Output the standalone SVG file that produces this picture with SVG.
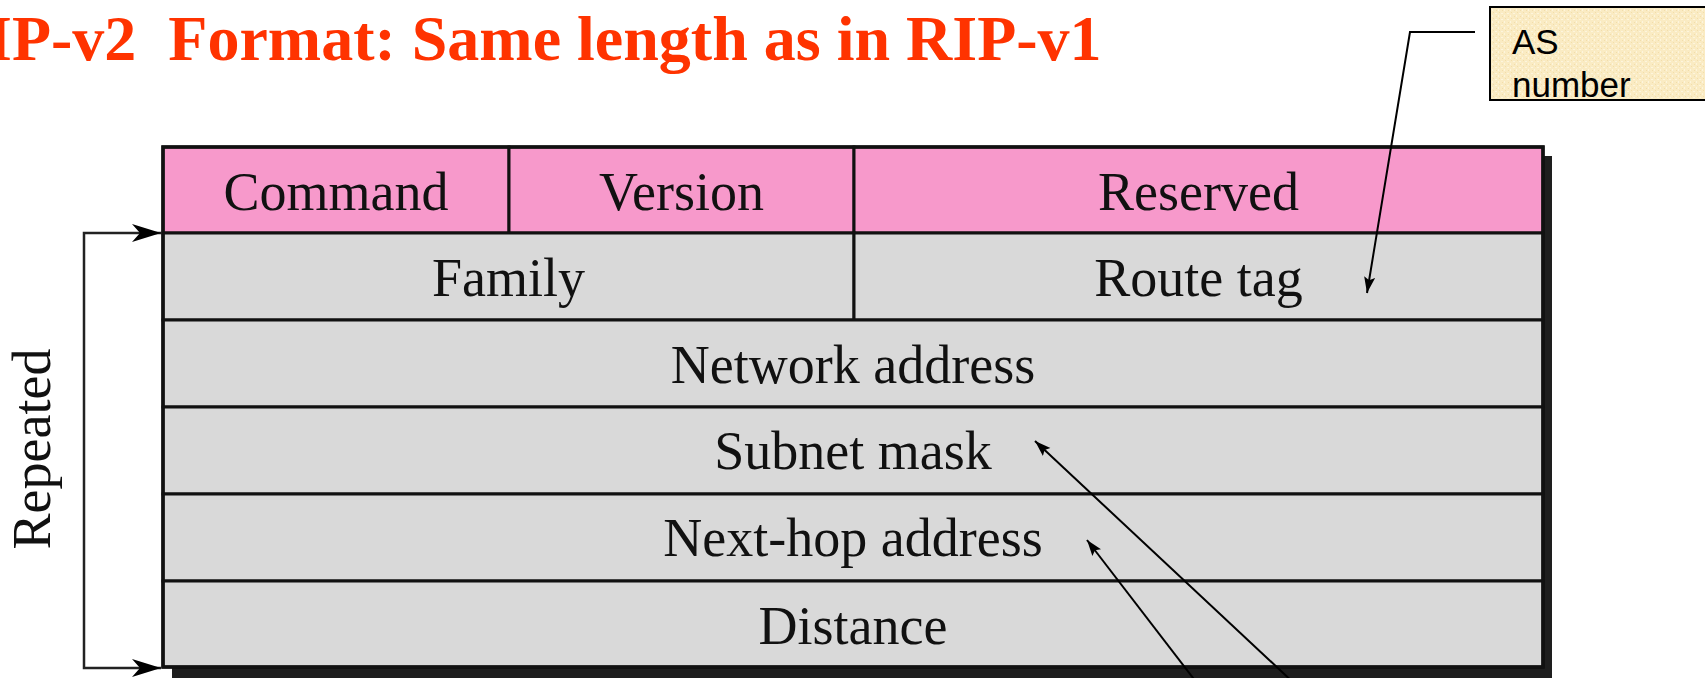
<svg xmlns="http://www.w3.org/2000/svg" width="1705" height="678" viewBox="0 0 1705 678">
  <defs>
    <style>
      .cell-pink{fill:#F799CB;stroke:#111;stroke-width:3}
      .cell-gray{fill:#D9D9D9;stroke:#111;stroke-width:3}
      .frame{fill:none;stroke:#111;stroke-width:3.5}
      .shadow{fill:#1E1E1E}
      .lbl{font-family:"Liberation Serif","Times New Roman",serif;font-size:54px;fill:#111;text-anchor:middle}
      .title{font-family:"Liberation Serif","Times New Roman",serif;font-weight:bold;font-size:64px;fill:#FF3300}
      .note{font-family:"Liberation Sans",Arial,sans-serif;font-size:35px;fill:#000}
      .wire{fill:none;stroke:#000;stroke-width:2}
      .bracket{fill:none;stroke:#222;stroke-width:2.5}
    </style>
    <marker id="tip" markerUnits="userSpaceOnUse" markerWidth="18" markerHeight="12" refX="16" refY="6" orient="auto" viewBox="0 0 18 12">
      <path d="M0,0.5 L16,6 L0,11.5 L3,6 Z" fill="#000"/>
    </marker>
    <marker id="stealth" markerUnits="userSpaceOnUse" markerWidth="30" markerHeight="20" refX="29" refY="10" orient="auto" viewBox="0 0 30 20">
      <path d="M0,1 L29,10 L0,19 L8,10 Z" fill="#000"/>
    </marker>
    <pattern id="paper" width="6" height="6" patternUnits="userSpaceOnUse">
      <rect width="6" height="6" fill="#FAEBC3"/>
      <rect x="1" y="1" width="2" height="1" fill="#FDF5DD"/>
      <rect x="4" y="3" width="1" height="2" fill="#FDF5DD"/>
      <rect x="2" y="4" width="1" height="1" fill="#F2DDAA"/>
      <rect x="5" y="0" width="1" height="1" fill="#F2DDAA"/>
    </pattern>
    <clipPath id="noteClip">
      <rect x="1491" y="8" width="214" height="91"/>
    </clipPath>
  </defs>

  <!-- heading -->
  <g id="title">
    <text class="title" x="-13" y="60" xml:space="preserve">IP-v2  Format: Same length as in RIP-v1</text>
  </g>

  <!-- drop shadow behind the packet layout -->
  <rect class="shadow" x="172" y="156" width="1380" height="522"/>

  <!-- header row -->
  <g id="command">
    <rect class="cell-pink" x="163" y="147" width="346" height="86"/>
    <text class="lbl" x="336" y="210">Command</text>
  </g>
  <g id="version">
    <rect class="cell-pink" x="509" y="147" width="345" height="86"/>
    <text class="lbl" x="681.5" y="210">Version</text>
  </g>
  <g id="reserved">
    <rect class="cell-pink" x="854" y="147" width="689" height="86"/>
    <text class="lbl" x="1198.5" y="210">Reserved</text>
  </g>

  <!-- repeated route entry -->
  <g id="family">
    <rect class="cell-gray" x="163" y="233" width="691" height="87"/>
    <text class="lbl" x="508.5" y="296">Family</text>
  </g>
  <g id="route-tag">
    <rect class="cell-gray" x="854" y="233" width="689" height="87"/>
    <text class="lbl" x="1198.5" y="296">Route tag</text>
  </g>
  <g id="network-address">
    <rect class="cell-gray" x="163" y="320" width="1380" height="87"/>
    <text class="lbl" x="853" y="383">Network address</text>
  </g>
  <g id="subnet-mask">
    <rect class="cell-gray" x="163" y="407" width="1380" height="87"/>
    <text class="lbl" x="853" y="469">Subnet mask</text>
  </g>
  <g id="next-hop">
    <rect class="cell-gray" x="163" y="494" width="1380" height="87"/>
    <text class="lbl" x="853" y="556">Next-hop address</text>
  </g>
  <g id="distance">
    <rect class="cell-gray" x="163" y="581" width="1380" height="86"/>
    <text class="lbl" x="853" y="644">Distance</text>
  </g>
  <rect class="frame" x="163" y="147" width="1380" height="520"/>

  <!-- side label for the repeated block -->
  <g id="repeated">
    <text class="lbl" transform="translate(50,449) rotate(-90)">Repeated</text>
  </g>

  <!-- callout box -->
  <g id="as-number">
    <rect x="1490" y="7" width="240" height="93" fill="url(#paper)" stroke="#000" stroke-width="2"/>
    <g clip-path="url(#noteClip)">
      <text class="note" x="1512" y="54">AS</text>
      <text class="note" x="1512" y="97">number</text>
    </g>
  </g>

  <!-- connectors -->
  <g id="connectors">
    <path class="bracket" d="M84,450 V233 H161" marker-end="url(#stealth)"/>
    <path class="bracket" d="M84,450 V668 H161" marker-end="url(#stealth)"/>
    <path class="wire" d="M1475,32 H1410 L1367,293" marker-end="url(#tip)"/>
    <path class="wire" d="M1312,700 L1035,441" marker-end="url(#tip)"/>
    <path class="wire" d="M1210,700 L1087,540" marker-end="url(#tip)"/>
  </g>
</svg>
